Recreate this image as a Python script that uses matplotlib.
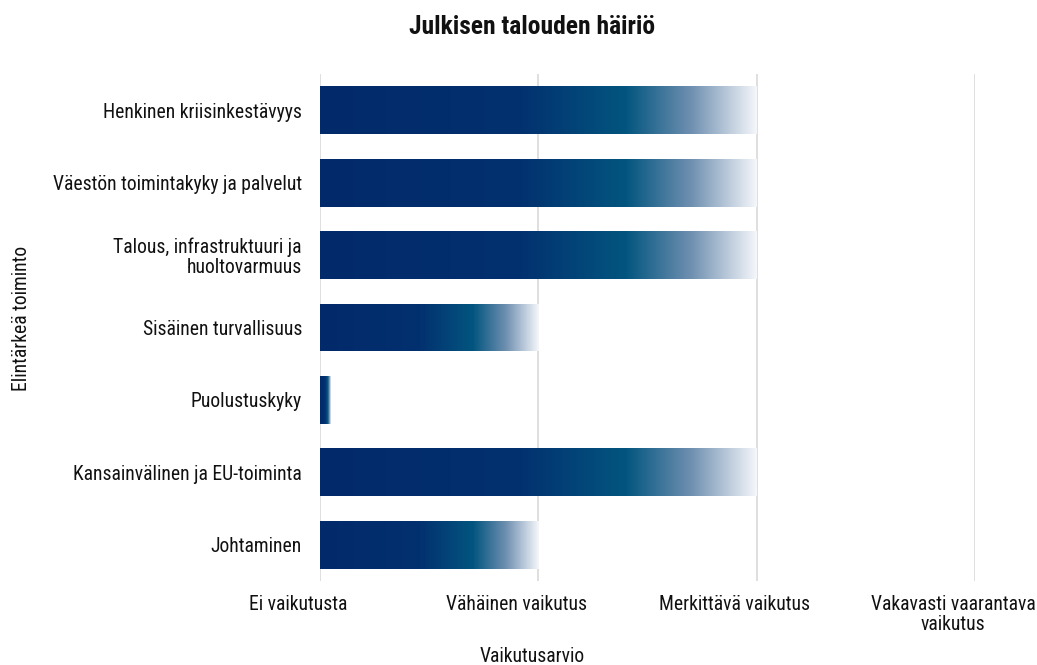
import numpy as np
import matplotlib
matplotlib.use("Agg")
import matplotlib.pyplot as plt
from matplotlib import font_manager
from matplotlib.colors import LinearSegmentedColormap
from matplotlib.patches import Rectangle
from matplotlib.transforms import ScaledTranslation

categories = [
    "Henkinen kriisinkestävyys",
    "Väestön toimintakyky ja palvelut",
    "Talous, infrastruktuuri ja\nhuoltovarmuus",
    "Sisäinen turvallisuus",
    "Puolustuskyky",
    "Kansainvälinen ja EU-toiminta",
    "Johtaminen",
]
values = [2, 2, 2, 1, 0.05, 2, 1]
x_ticklabels = ["Ei vaikutusta", "Vähäinen vaikutus", "Merkittävä vaikutus",
                "Vakavasti vaarantava\nvaikutus"]
title = "Julkisen talouden häiriö"
xlabel = "Vaikutusarvio"
ylabel = "Elintärkeä toiminto"

available = {f.name for f in font_manager.fontManager.ttflist}
family = "DejaVu Sans"
for cand in ["Roboto Condensed", "Liberation Sans Narrow", "Open Sans Condensed",
             "Roboto", "Liberation Sans"]:
    if cand in available:
        family = cand
        break
plt.rcParams["font.family"] = [family, "DejaVu Sans"]

FS = 14.1
TXT = "#111111"

cmap = LinearSegmentedColormap.from_list(
    "grad",
    [(0.0, "#022a6b"), (0.45, "#03306f"), (0.70, "#02557f"),
     (0.85, "#6e8fb0"), (1.0, "#f4f6fa")])

fig = plt.figure(figsize=(10.37, 6.65), dpi=100)
ax = fig.add_axes([320 / 1037, 1 - 581 / 665, (975 - 320) / 1037, (581 - 74) / 665])

y = np.arange(len(categories))
bar_h = 0.66
bars = ax.barh(y, values, height=bar_h, color="none", edgecolor="none", zorder=2)
grad = np.linspace(0, 1, 256).reshape(1, -1)
for b in bars:
    x0, y0 = b.get_x(), b.get_y()
    w, h = b.get_width(), b.get_height()
    im = ax.imshow(grad, cmap=cmap, aspect="auto", extent=[x0, x0 + w, y0, y0 + h],
                   zorder=3, interpolation="bilinear")
    clip = Rectangle((x0, y0), w, h, transform=ax.transData)
    im.set_clip_path(clip)

ax.set_xlim(0, 3)
ax.set_ylim(len(categories) - 0.5, -0.5)
ax.set_xticks(range(4))
ax.set_xticklabels(x_ticklabels, fontsize=FS, color=TXT, linespacing=1.05)
ax.set_yticks(y)
ax.set_yticklabels(categories, fontsize=FS, color=TXT, linespacing=1.05)
ax.tick_params(axis="x", length=0, pad=10)
ax.tick_params(axis="y", length=0, pad=13)
off = ScaledTranslation(-22 / 100, 0, fig.dpi_scale_trans)
for lab in ax.get_xticklabels():
    lab.set_transform(lab.get_transform() + off)
ax.grid(axis="x", color="#d9d9d9", linewidth=1.2, zorder=0)
ax.set_axisbelow(True)
for s in ax.spines.values():
    s.set_visible(False)

fig.text(532 / 1037, 1 - 27 / 665, title, ha="center", va="center", fontsize=18.4,
         fontweight="bold", color=TXT)
fig.text(532 / 1037, 1 - 656 / 665, xlabel, ha="center", va="center", fontsize=FS,
         color=TXT)
fig.text(22 / 1037, 1 - 318 / 665, ylabel, ha="center", va="center", fontsize=FS,
         rotation=90, color=TXT)

fig.savefig("out.png", dpi=100)
